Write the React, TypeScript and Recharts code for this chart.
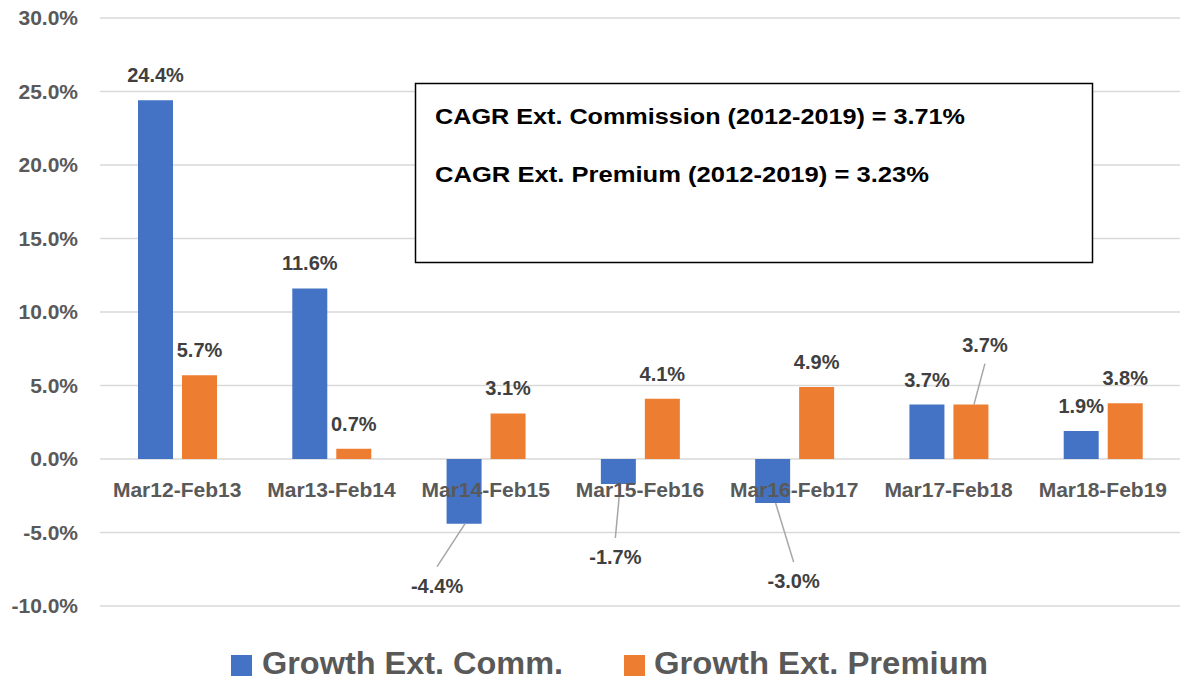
import React from 'react';
import { BarChart, Bar, XAxis, YAxis, CartesianGrid, Legend, LabelList } from 'recharts';

const categories = [
  'Mar12-Feb13',
  'Mar13-Feb14',
  'Mar14-Feb15',
  'Mar15-Feb16',
  'Mar16-Feb17',
  'Mar17-Feb18',
  'Mar18-Feb19',
];
const growthComm = [24.4, 11.6, -4.4, -1.7, -3.0, 3.7, 1.9];
const growthPremium = [5.7, 0.7, 3.1, 4.1, 4.9, 3.7, 3.8];
const yTicks = [-10, -5, 0, 5, 10, 15, 20, 25, 30];
const seriesNames = ['Growth Ext. Comm.', 'Growth Ext. Premium'];
const cagrLines = [
  'CAGR Ext. Commission (2012-2019) = 3.71%',
  'CAGR Ext. Premium (2012-2019) = 3.23%',
];

const data = categories.map((name, i) => ({
  name,
  comm: growthComm[i],
  premium: growthPremium[i],
}));

const W = 1184;
const H = 682;
const LEGEND_H = 56;
const XAXIS_H = 20;
const PLOT_TOP = 18;
const PLOT_BOTTOM = H - LEGEND_H - XAXIS_H;
const Y_MIN = -10;
const Y_MAX = 30;
const zeroY = PLOT_TOP + ((PLOT_BOTTOM - PLOT_TOP) * Y_MAX) / (Y_MAX - Y_MIN);

const FONT = "'Liberation Sans', Arial, sans-serif";
const BLUE = '#4472C4';
const ORANGE = '#ED7D31';

// labels that Excel moved off the bar, with a leader line
const commNudges: Record<number, { dx: number; dy: number; sx: number }> = {
  2: { dx: -27, dy: 62, sx: 1 },
  3: { dx: -3, dy: 73, sx: 2 },
  4: { dx: 21, dy: 78, sx: 3 },
};
const premiumNudges: Record<number, { dx: number; dy: number; sx: number }> = {
  5: { dx: 14, dy: 60, sx: 3 },
};

const makeLabel = (nudges: Record<number, { dx: number; dy: number; sx: number }>) => (props: any) => {
  const { x, y, width, height, value, index } = props;
  const cx = x + width / 2;
  const top = Math.min(y, y + height);
  const bottom = Math.max(y, y + height);
  const text = `${Number(value).toFixed(1)}%`;
  const style = { fontFamily: FONT, fontSize: 20, fontWeight: 700, fill: '#404040' };
  const n = nudges[index];
  if (!n) {
    return (
      <text x={cx} y={top - 25} textAnchor="middle" dominantBaseline="central" style={style}>
        {text}
      </text>
    );
  }
  const endY = value < 0 ? bottom : top;
  const dir = value < 0 ? 1 : -1;
  const lx = cx + n.dx;
  const ly = endY + dir * n.dy;
  return (
    <g>
      <line x1={cx + n.sx} y1={endY} x2={lx} y2={ly - dir * 19} stroke="#a6a6a6" strokeWidth={1.5} />
      <text x={lx} y={ly} textAnchor="middle" dominantBaseline="central" style={style}>
        {text}
      </text>
    </g>
  );
};

const CategoryTick = (props: any) => {
  const { x, payload } = props;
  return (
    <text
      x={x}
      y={zeroY + 38}
      textAnchor="middle"
      style={{ fontFamily: FONT, fontSize: 21, fontWeight: 700, fill: '#595959' }}
    >
      {payload.value}
    </text>
  );
};

const LegendBox = () => (
  <svg width={1180} height={LEGEND_H} style={{ display: 'block' }}>
    <rect x={231} y={29} width={21} height={21} fill={BLUE} />
    <text x={262} y={48} textLength={301} lengthAdjust="spacingAndGlyphs"
      style={{ fontFamily: FONT, fontSize: 31, fontWeight: 700, fill: '#595959' }}>
      {seriesNames[0]}
    </text>
    <rect x={624} y={29} width={21} height={21} fill={ORANGE} />
    <text x={654} y={48} textLength={334} lengthAdjust="spacingAndGlyphs"
      style={{ fontFamily: FONT, fontSize: 31, fontWeight: 700, fill: '#595959' }}>
      {seriesNames[1]}
    </text>
  </svg>
);

export default function App() {
  return (
    <div style={{ position: 'absolute', left: 0, top: 0, width: W, height: H, background: '#fff' }}>
      <BarChart
        width={W}
        height={H}
        data={data}
        margin={{ top: PLOT_TOP, right: 4, left: 0, bottom: 0 }}
        barSize={35}
        barGap={9}
      >
        <CartesianGrid vertical={false} stroke="#d9d9d9" strokeWidth={1.5} />
        <YAxis
          width={100}
          domain={[Y_MIN, Y_MAX]}
          ticks={yTicks}
          interval={0}
          tickLine={false}
          axisLine={false}
          tickMargin={16}
          tickFormatter={(v: number) => `${v.toFixed(1)}%`}
          tick={{ fontFamily: FONT, fontSize: 21, fontWeight: 700, fill: '#595959' }}
        />
        <Bar dataKey="comm" name={seriesNames[0]} fill={BLUE} isAnimationActive={false}>
          <LabelList dataKey="comm" content={makeLabel(commNudges)} />
        </Bar>
        <Bar dataKey="premium" name={seriesNames[1]} fill={ORANGE} isAnimationActive={false}>
          <LabelList dataKey="premium" content={makeLabel(premiumNudges)} />
        </Bar>
        <XAxis
          dataKey="name"
          height={XAXIS_H}
          interval={0}
          tickLine={false}
          axisLine={false}
          tick={<CategoryTick />}
        />
        <Legend verticalAlign="bottom" height={LEGEND_H} content={() => <LegendBox />} />
      </BarChart>
      <svg width={W} height={H} style={{ position: 'absolute', left: 0, top: 0, pointerEvents: 'none' }}>
        <rect x={415.5} y={83.5} width={677} height={179} fill="#fff" stroke="#000" strokeWidth={1.5} />
        <text x={435} y={124} textLength={530} lengthAdjust="spacingAndGlyphs"
          style={{ fontFamily: FONT, fontSize: 22, fontWeight: 700, fill: '#000' }}>
          {cagrLines[0]}
        </text>
        <text x={435} y={182} textLength={494} lengthAdjust="spacingAndGlyphs"
          style={{ fontFamily: FONT, fontSize: 22, fontWeight: 700, fill: '#000' }}>
          {cagrLines[1]}
        </text>
      </svg>
    </div>
  );
}
